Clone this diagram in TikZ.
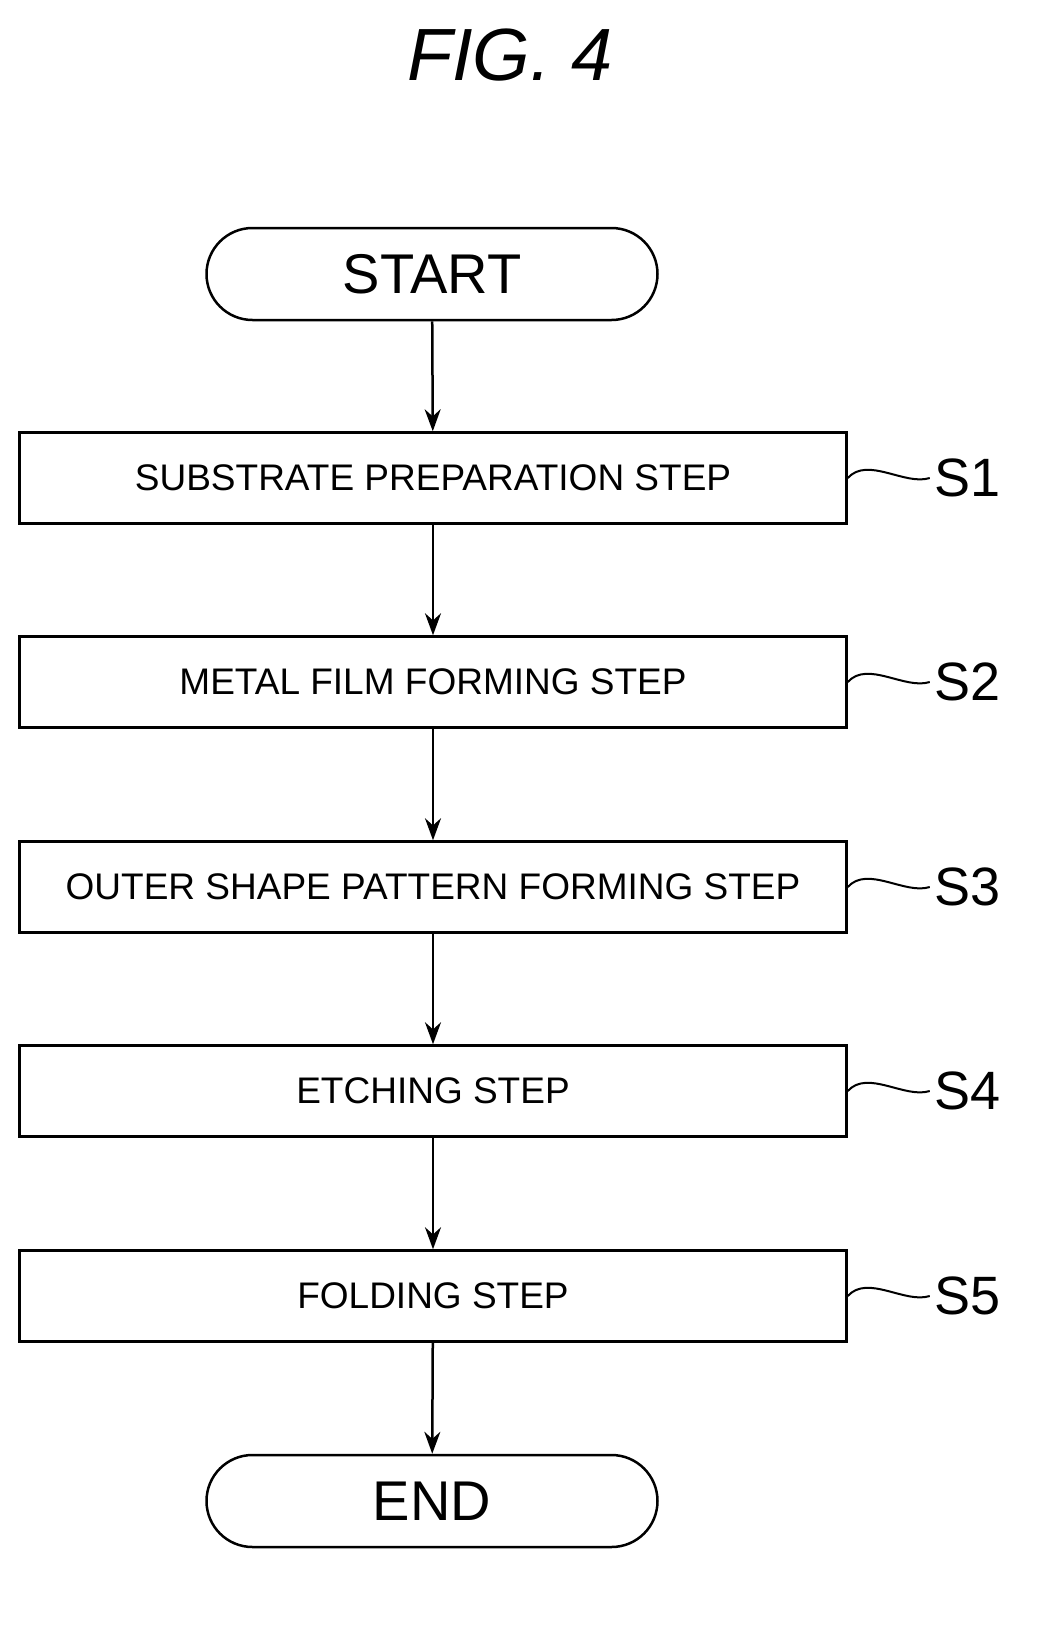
\documentclass[tikz,border=0pt]{standalone}
\usepackage{fontspec}
\setmainfont{Liberation Sans}
\usetikzlibrary{arrows.meta}
\begin{document}
\begin{tikzpicture}[x=1pt,y=-1pt,line width=2.5pt,
  stepbox/.style={draw, minimum width=827pt, minimum height=91pt, font=\fontsize{37}{37}\selectfont},
  term/.style={draw, rounded corners=46pt, minimum width=451pt, minimum height=92pt, font=\fontsize{56}{56}\selectfont},
  flow/.style={-{Stealth[length=22pt,width=16pt]}},
  lbl/.style={font=\fontsize{54}{54}\selectfont, anchor=west}]
\useasboundingbox (0,0) rectangle (1062,1642);
% title
\node[font=\fontsize{74}{74}\selectfont\itshape] (title) at (510,55) {FIG. 4};
% draws nodes
\node[term] (start) at (432,274) {START};
\node[stepbox] (s1) at (433,478) {SUBSTRATE PREPARATION STEP};
\node[stepbox] (s2) at (433,682) {METAL FILM FORMING STEP};
\node[stepbox] (s3) at (433,887) {OUTER SHAPE PATTERN FORMING STEP};
\node[stepbox] (s4) at (433,1091) {ETCHING STEP};
\node[stepbox] (s5) at (433,1296) {FOLDING STEP};
\node[term] (end) at (432,1501) {END};
% draws arrows
\draw[flow] (start) -- (s1);
\draw[flow] (s1) -- (s2);
\draw[flow] (s2) -- (s3);
\draw[flow] (s3) -- (s4);
\draw[flow] (s4) -- (s5);
\draw[flow] (s5) -- (end);
% labels steps
\foreach \i in {1,...,5}{
  \node[lbl] (l\i) at ([xshift=82pt]s\i.east) {S\i};
  \draw[line width=2pt] (s\i.east) .. controls +(20,-22) and +(-25,8) .. (l\i.west);
}
\end{tikzpicture}
\end{document}
